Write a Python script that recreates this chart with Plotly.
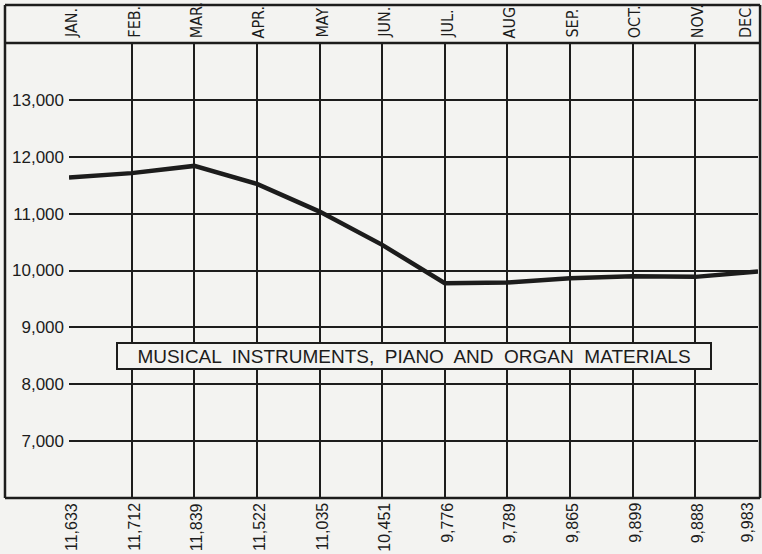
import plotly.graph_objects as go

months = ["JAN.", "FEB.", "MAR.", "APR.", "MAY", "JUN.", "JUL.", "AUG", "SEP.", "OCT.", "NOV.", "DEC."]
values = [11633, 11712, 11839, 11522, 11035, 10451, 9776, 9789, 9865, 9899, 9888, 9983]
value_labels = ["11,633", "11,712", "11,839", "11,522", "11,035", "10,451",
                "9,776", "9,789", "9,865", "9,899", "9,888", "9,983"]
y_ticks = [7000, 8000, 9000, 10000, 11000, 12000, 13000]
y_tick_labels = ["7,000", "8,000", "9,000", "10,000", "11,000", "12,000", "13,000"]
title_text = "MUSICAL  INSTRUMENTS,  PIANO  AND  ORGAN  MATERIALS"

INK = "#1c1c1c"
BG = "#f3f3f1"
FONT = "Liberation Sans"
NARROW = "Liberation Sans Narrow, DejaVu Sans Condensed, Liberation Sans"

xs = list(range(len(months)))
last = len(months) - 1

fig = go.Figure()
fig.add_trace(go.Scatter(x=xs, y=values, mode="lines",
                         line=dict(color=INK, width=4.5), hoverinfo="skip"))

annotations = []
for i, m in enumerate(months):
    annotations.append(dict(x=i, y=1, xref="x", yref="paper", text=m, showarrow=False,
                            textangle=-90, xanchor="right" if i == last else "center",
                            xshift=-1 if i == last else 2,
                            yanchor="bottom", yshift=3,
                            font=dict(family=NARROW, size=16, color=INK)))
for i, v in enumerate(value_labels):
    annotations.append(dict(x=i, y=0, xref="x", yref="paper", text=v, showarrow=False,
                            textangle=-90, xanchor="right" if i == last else "center",
                            xshift=-1 if i == last else 2,
                            yanchor="top", yshift=-3,
                            font=dict(family=FONT, size=16, color=INK)))
annotations.append(dict(x=5.51, y=8505, xref="x", yref="y", text=title_text, showarrow=False,
                        font=dict(family=FONT, size=19, color=INK),
                        width=590, height=22,
                        bgcolor=BG, bordercolor=INK, borderwidth=2, borderpad=1))

# outer frame and header rule (paper coordinates extend beyond the plot area)
shapes = [
    dict(type="line", xref="paper", yref="paper", x0=-0.0929, x1=-0.0929, y0=0, y1=1.0835,
         line=dict(color=INK, width=2.5)),
    dict(type="line", xref="paper", yref="paper", x0=-0.0929, x1=1.003, y0=1.0835, y1=1.0835,
         line=dict(color=INK, width=2.5)),
    dict(type="line", xref="paper", yref="paper", x0=-0.0929, x1=1.003, y0=1, y1=1,
         line=dict(color=INK, width=2.5)),
    dict(type="line", xref="paper", yref="paper", x0=-0.0929, x1=1.003, y0=0, y1=0,
         line=dict(color=INK, width=2.5)),
    dict(type="line", xref="paper", yref="paper", x0=1.003, x1=1.003, y0=0, y1=1.0835,
         line=dict(color=INK, width=2.5)),
]

fig.update_layout(
    width=762, height=554,
    margin=dict(l=69, r=4, t=43, b=56, autoexpand=False),
    paper_bgcolor=BG, plot_bgcolor=BG,
    showlegend=False,
    annotations=annotations,
    shapes=shapes,
    xaxis=dict(range=[0, 11], tickvals=xs, showticklabels=False, showgrid=True,
               gridcolor=INK, gridwidth=2, zeroline=False, showline=False, ticks="",
               automargin=False),
    yaxis=dict(range=[6000, 14000], tickvals=y_ticks, ticktext=y_tick_labels,
               showgrid=True, gridcolor=INK, gridwidth=2, zeroline=False, showline=False,
               ticks="", ticklabelstandoff=4, automargin=False,
               tickfont=dict(family=FONT, size=17, color=INK)),
)

fig.write_html("out.html", config={"displayModeBar": False},
               post_script="document.body.style.margin='0';document.body.style.overflow='hidden';")
